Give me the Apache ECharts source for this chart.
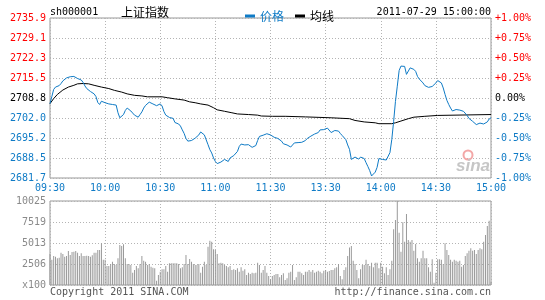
<!DOCTYPE html>
<html>
<head>
<meta charset="utf-8">
<script src="https://cdn.jsdelivr.net/npm/echarts@6/dist/echarts.min.js"></script>
<style>
html,body{margin:0;padding:0;background:#fff;}
#c{width:545px;height:300px;}
</style>
</head>
<body>
<div id="c"></div>
<script>
// ---------- data ----------
var prevClose = 2708.8;
var timeTicks = ['09:30','10:00','10:30','11:00','11:30','13:30','14:00','14:30','15:00'];
var priceTicks = ['2681.7','2688.5','2695.2','2702.0','2708.8','2715.5','2722.3','2729.1','2735.9'];
var pctTicks = ['-1.00%','-0.75%','-0.50%','-0.25%','0.00%','+0.25%','+0.50%','+0.75%','+1.00%'];
var volTicks = ['x100','2506','5013','7519','10025'];

// minute-by-minute price (index 0 = 09:30, 240 = 15:00)
var price = [
2706.9,2709.3,2711.7,2712.5,2712.9,2713.0,2713.7,2714.6,2715.1,2715.6,
2715.7,2716.0,2716.1,2716.1,2715.6,2715.4,2715.2,2714.9,2714.1,2712.9,
2712.0,2711.5,2711.0,2711.2,2710.2,2709.3,2707.3,2706.6,2707.7,2707.8,
2707.2,2707.4,2706.8,2706.8,2706.6,2706.6,2706.4,2703.8,2702.1,2702.5,
2703.2,2704.6,2705.4,2704.8,2704.4,2704.1,2703.0,2702.6,2702.3,2703.2,
2704.1,2705.4,2706.3,2706.7,2707.4,2706.8,2706.8,2707.1,2706.2,2706.4,
2706.8,2706.1,2704.2,2703.0,2703.0,2702.2,2702.0,2701.9,2700.5,2700.2,
2700.0,2699.3,2698.0,2696.8,2695.1,2694.2,2694.1,2694.4,2694.6,2695.2,
2695.6,2696.3,2697.3,2696.8,2696.3,2696.2,2693.0,2691.3,2690.2,2688.5,
2687.3,2686.6,2686.9,2687.1,2687.3,2688.0,2687.4,2687.3,2688.5,2688.7,
2689.3,2689.7,2690.7,2692.4,2693.2,2693.3,2692.9,2692.5,2693.0,2692.5,
2692.1,2691.9,2692.7,2694.4,2695.8,2696.1,2696.2,2696.3,2696.7,2696.3,
2696.3,2696.1,2695.5,2695.2,2695.1,2694.7,2694.2,2693.3,2693.0,2692.9,
2692.5,2692.2,2692.5,2693.6,2693.6,2693.7,2693.7,2693.8,2694.0,2694.4,
2695.1,2695.6,2695.9,2696.1,2696.6,2696.8,2697.1,2698.0,2698.3,2698.1,
2698.5,2698.6,2698.0,2697.1,2697.3,2697.8,2697.7,2697.6,2696.8,2696.1,
2695.9,2694.7,2692.9,2691.4,2688.0,2688.3,2688.8,2688.3,2688.1,2688.8,
2689.3,2688.3,2686.9,2685.6,2684.2,2682.4,2682.0,2683.7,2685.3,2688.3,
2688.3,2688.0,2687.8,2687.8,2688.2,2690.3,2694.7,2700.8,2707.6,2712.8,
2718.1,2719.6,2719.6,2719.5,2716.8,2717.4,2719.0,2719.0,2718.5,2717.8,
2716.1,2715.2,2714.6,2713.9,2713.0,2713.2,2712.4,2712.7,2712.7,2712.9,
2713.9,2714.7,2714.7,2713.9,2712.2,2710.0,2708.0,2706.6,2705.4,2704.4,
2704.6,2704.9,2704.7,2704.7,2704.5,2704.3,2703.8,2702.9,2701.9,2701.3,
2700.9,2700.4,2699.8,2699.7,2700.3,2700.2,2700.0,2700.3,2700.7,2701.7,
2702.1
];

// average line, read at these minutes
var avgMinutes = [0,2,4,7,10,13,15,18,21,24,28,32,35,39,42,46,50,53,61,64,68,73,76,79,82,86,89,91,95,99,102,108,113,115,121,128,129,139,140,153,154,163,164,166,171,177,179,186,188,191,195,198,204,211,212,240];
var avgValues = [2706.9,2708.6,2710.0,2711.5,2712.5,2713.1,2713.6,2713.7,2713.6,2713.1,2712.5,2712.0,2711.4,2710.8,2710.2,2709.7,2709.5,2709.2,2709.2,2708.9,2708.5,2708.1,2707.5,2707.2,2706.8,2706.4,2705.5,2704.8,2704.3,2703.8,2703.4,2703.2,2703.0,2702.7,2702.6,2702.6,2702.4,2702.4,2702.1,2702.1,2701.8,2701.8,2701.4,2701.2,2700.7,2700.4,2700.1,2700.1,2700.4,2701.0,2701.8,2702.3,2702.6,2702.9,2703.2,2703.2];

// minute volume (x100)
var volume = [
3700,3000,3460,3380,3180,3260,3860,3700,3380,3460,
4060,3580,3940,3980,4060,3860,3460,3780,3460,3460,
3500,3460,3380,3540,3860,3860,4180,4180,4970,3000,
3000,2270,2270,2500,2780,2500,2390,3180,4770,4650,
4850,3180,2500,2500,2390,1470,1790,2270,1990,2500,
3460,2900,2780,2390,2500,2190,2070,1990,510,1190,
1590,1870,1870,2270,1590,2590,2590,2590,2590,2590,
2500,1990,2110,2500,3580,2500,3100,2780,2500,2390,
2390,2500,1470,2190,2780,2390,4570,5290,5170,4260,
4180,3700,2590,2660,2590,2390,2270,2110,2270,1790,
1870,1790,1990,1590,2110,1710,1870,1190,1470,1310,
1470,1390,1470,2660,2390,1470,1790,2270,1470,1070,
680,1070,1190,1310,1310,920,1190,1390,600,800,
1470,1590,2390,600,920,1590,1590,1390,1190,1590,
1590,1790,1590,1790,1470,1590,1710,1590,1390,1710,
1790,1590,1670,1790,1790,1990,2110,2500,1070,680,
1790,2110,3460,4490,4650,2900,2500,1790,800,1870,
2390,2390,3000,2500,2270,2660,2110,2660,2660,1990,
2660,2190,1390,2110,1190,1870,2900,6640,7760,10025,
6250,3980,7480,5170,8470,5370,5170,5370,4100,4890,
3180,2780,3180,4100,3180,3180,2110,1590,3060,280,
1470,3060,3060,3000,2500,4970,4180,3580,3000,2780,
3000,2900,2780,2900,2190,2390,3460,3780,4100,4380,
4100,4180,3700,4180,4380,4260,5170,5970,7040,7680,
400
];

// ---------- build ----------
function toPct(p){ return (p / prevClose - 1) * 100; }
var priceData = price.map(function(p, i){ return [i, toPct(p)]; });
var avgData = avgMinutes.map(function(m, k){ return [m, toPct(avgValues[k])]; });
var volData = volume.map(function(v, i){ return [i, v]; });

var BLUE = '#0f7bc6', RED = '#ff0000', GRAY = '#999999', GRID = '#b4b4b4';
var MONO = '"DejaVu Sans Mono", monospace';
var CJK = '"Noto Sans CJK SC", sans-serif';
function pctIdx(v){ return Math.round((v + 1) / 0.25); }
function sideColor(v){ var k = pctIdx(v); return k > 4 ? RED : (k === 4 ? '#000' : BLUE); }
var dotted = {color: GRID, type: [1, 2], width: 1};

var chart = echarts.init(document.getElementById('c'), null, {renderer: 'canvas'});
chart.setOption({
  animation: false,
  backgroundColor: '#fff',
  grid: [
    {left: 50, top: 18, width: 441, height: 160, show: true, borderColor: GRAY, borderWidth: 1, backgroundColor: 'transparent'},
    {left: 50, top: 201, width: 441, height: 84, show: true, borderColor: GRAY, borderWidth: 1, backgroundColor: 'transparent'}
  ],
  legend: {
    left: 240, top: 5, itemWidth: 10, itemHeight: 3, itemGap: 11, icon: 'rect',
    textStyle: {fontFamily: CJK, fontSize: 12},
    data: [
      {name: '价格', textStyle: {color: BLUE}},
      {name: '均线', textStyle: {color: '#000'}}
    ]
  },
  xAxis: [
    {gridIndex: 0, type: 'value', min: 0, max: 240, interval: 30,
     axisLine: {show: false}, axisTick: {show: false},
     splitLine: {show: true, lineStyle: dotted},
     axisLabel: {color: BLUE, fontFamily: MONO, fontSize: 10, margin: 5, showMinLabel: true, showMaxLabel: true,
       formatter: function(v){ return timeTicks[Math.round(v / 30)]; }}},
    {gridIndex: 1, type: 'value', min: 0, max: 240, interval: 30,
     axisLine: {show: false}, axisTick: {show: false},
     splitLine: {show: true, lineStyle: dotted},
     axisLabel: {show: false}}
  ],
  yAxis: [
    {gridIndex: 0, type: 'value', position: 'left', min: -1, max: 1, interval: 0.25,
     axisLine: {show: false}, axisTick: {show: false},
     splitLine: {show: true, lineStyle: dotted},
     axisLabel: {fontFamily: MONO, fontSize: 10, margin: 4, padding: [0, 0, 3, 0], showMinLabel: true, showMaxLabel: true,
       color: function(v){ return sideColor(+v); },
       formatter: function(v){ return priceTicks[pctIdx(v)]; }}},
    {gridIndex: 0, type: 'value', position: 'right', min: -1, max: 1, interval: 0.25,
     axisLine: {show: false}, axisTick: {show: false}, splitLine: {show: false},
     axisLabel: {fontFamily: MONO, fontSize: 10, margin: 4, padding: [0, 0, 3, 0], showMinLabel: true, showMaxLabel: true,
       color: function(v){ return sideColor(+v); },
       formatter: function(v){ return pctTicks[pctIdx(v)]; }}},
    {gridIndex: 1, type: 'value', position: 'left', min: 0, max: 10025, interval: 2506.25,
     axisLine: {show: false}, axisTick: {show: false},
     splitLine: {show: true, lineStyle: dotted},
     axisLabel: {color: '#8a8a8a', fontFamily: MONO, fontSize: 10, margin: 4, showMinLabel: true, showMaxLabel: true,
       formatter: function(v){ return volTicks[Math.round(v / 2506.25)]; }}}
  ],
  series: [
    {name: '均线', type: 'line', xAxisIndex: 0, yAxisIndex: 0, data: avgData, showSymbol: false, symbol: 'none',
     lineStyle: {color: '#000', width: 1}, itemStyle: {color: '#000'}},
    {name: '价格', type: 'line', xAxisIndex: 0, yAxisIndex: 0, data: priceData, showSymbol: false, symbol: 'none',
     lineStyle: {color: BLUE, width: 1}, itemStyle: {color: BLUE}},
    {name: '成交量', type: 'bar', xAxisIndex: 1, yAxisIndex: 2, data: volData, barWidth: 1,
     itemStyle: {color: '#9a9a9a'}}
  ],
  graphic: [
    {type: 'text', x: 50, y: 12, style: {text: 'sh000001', fill: '#000', font: '10px ' + MONO, textAlign: 'left', textVerticalAlign: 'middle'}},
    {type: 'text', x: 121, y: 12, style: {text: '上证指数', fill: '#000', font: '12px ' + CJK, textAlign: 'left', textVerticalAlign: 'middle'}},
    {type: 'text', x: 491, y: 12, style: {text: '2011-07-29 15:00:00', fill: '#000', font: '10px ' + MONO, textAlign: 'right', textVerticalAlign: 'middle'}},
    {type: 'text', x: 50, y: 292, style: {text: 'Copyright 2011 SINA.COM', fill: '#555', font: '10px ' + MONO, textAlign: 'left', textVerticalAlign: 'middle'}},
    {type: 'text', x: 491, y: 292, style: {text: 'http://finance.sina.com.cn', fill: '#555', font: '10px ' + MONO, textAlign: 'right', textVerticalAlign: 'middle'}},
    {type: 'circle', shape: {cx: 468, cy: 155, r: 4.5}, style: {fill: 'none', stroke: '#f3a7a7', lineWidth: 2}, z: 100},
    {type: 'text', x: 473, y: 166, style: {text: 'sina', fill: '#c6c6c6', font: 'italic bold 17px "Liberation Sans", sans-serif', textAlign: 'center', textVerticalAlign: 'middle'}, z: 100}
  ]
});
</script>
</body>
</html>
